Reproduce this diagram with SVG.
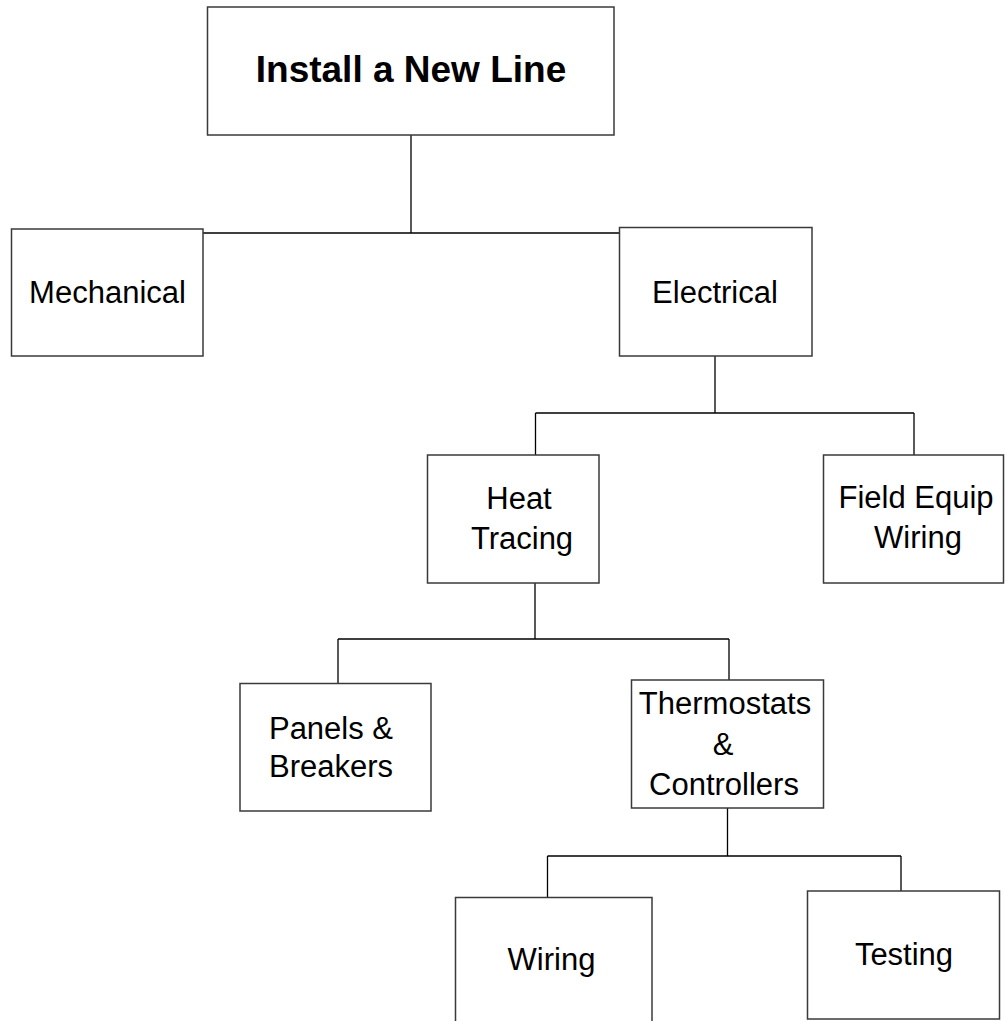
<svg xmlns="http://www.w3.org/2000/svg" width="1005" height="1021" viewBox="0 0 1005 1021">
<style>
.box{fill:#fff;stroke:#3a3a3a;stroke-width:1.5}
.con{fill:none;stroke:#000;stroke-width:1.3}
text{font-family:"Liberation Sans",Arial,sans-serif;font-size:31px;fill:#000;text-anchor:middle}
.title{font-weight:bold;font-size:37px}
</style>
<rect width="1005" height="1021" fill="#fff"/>
<g id="connectors">
<path class="con" d="M411 135V233M203 233H620"/>
<path class="con" d="M715 356V413M535.5 413H914M535.5 413V455M914 413V455"/>
<path class="con" d="M535 583V639M338 639H729M338 639V683M729 639V680"/>
<path class="con" d="M727.5 808V856M547.5 856H901M547.5 856V897M901 856V891"/>
</g>
<g id="n-install">
<rect class="box" x="207.5" y="7" width="406.5" height="128"/>
<text class="title" x="411" y="82">Install a New Line</text>
</g>
<g id="n-mechanical">
<rect class="box" x="11.5" y="229" width="191.5" height="127"/>
<text x="107.5" y="303">Mechanical</text>
</g>
<g id="n-electrical">
<rect class="box" x="619.5" y="227.5" width="192.5" height="128.5"/>
<text x="715" y="303">Electrical</text>
</g>
<g id="n-heat">
<rect class="box" x="427.5" y="455" width="171.5" height="128"/>
<text x="519" y="509">Heat</text>
<text x="522" y="549">Tracing</text>
</g>
<g id="n-field">
<rect class="box" x="823.5" y="455" width="180" height="128"/>
<text x="916" y="508">Field Equip</text>
<text x="918" y="548">Wiring</text>
</g>
<g id="n-panels">
<rect class="box" x="240" y="683.5" width="191" height="127.5"/>
<text x="331" y="739">Panels &amp;</text>
<text x="331" y="777">Breakers</text>
</g>
<g id="n-thermo">
<rect class="box" x="631.5" y="680" width="192" height="128"/>
<text x="725" y="714">Thermostats</text>
<text x="723" y="755">&amp;</text>
<text x="724" y="795">Controllers</text>
</g>
<g id="n-wiring">
<rect class="box" x="455.5" y="897.5" width="196.5" height="140"/>
<text x="551.5" y="970">Wiring</text>
</g>
<g id="n-testing">
<rect class="box" x="807.5" y="891" width="192" height="128"/>
<text x="904" y="965">Testing</text>
</g>
</svg>
